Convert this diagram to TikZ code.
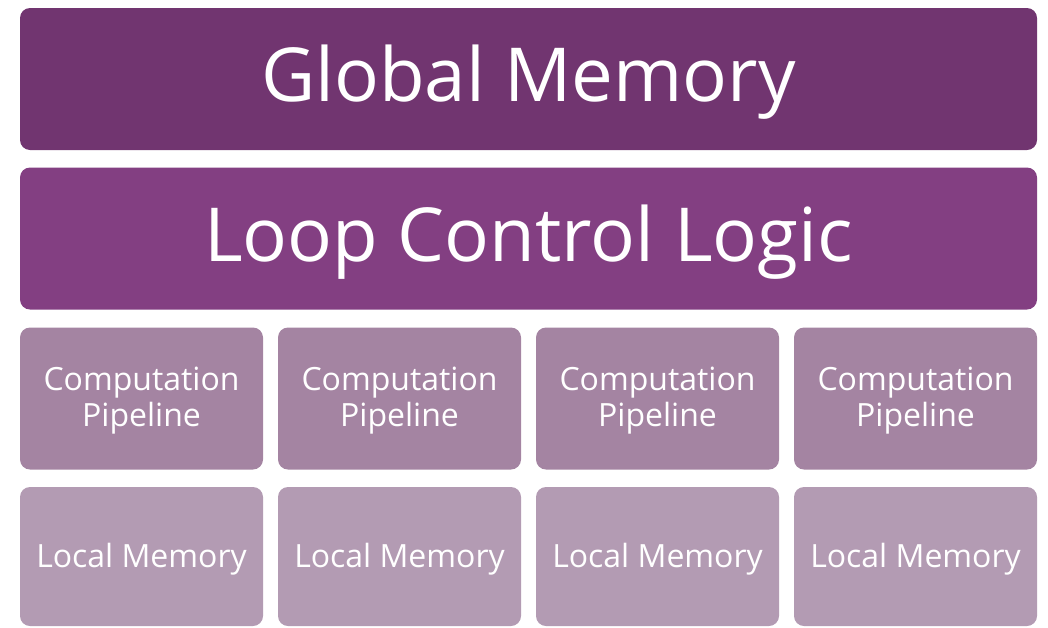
\documentclass[tikz,border=0pt]{standalone}
\usepackage{fontspec}
\setmainfont{Open Sans}
\usepackage{tikz}
\usetikzlibrary{positioning}
\usetikzlibrary{math}

\definecolor{globalcol}{HTML}{713570}
\definecolor{loopcol}{HTML}{833F82}
\definecolor{pipecol}{HTML}{A484A2}
\definecolor{localcol}{HTML}{B39BB3}

\tikzstyle{block} = [rectangle, rounded corners=10pt, inner sep=0pt, text=white, align=center, minimum height=142pt, text depth=0pt]
\tikzstyle{widebox} = [block, minimum width=1017pt, text height=45pt, font=\fontsize{74.5}{90}\selectfont]
\tikzstyle{smallbox} = [block, minimum width=243pt, text height=22pt, font=\fontsize{32}{36}\selectfont]

\begin{document}
\begin{tikzpicture}[x=1pt, y=-1pt]

  \useasboundingbox (0,0) rectangle (1048,627);

  \tikzmath{\xa = 141.5; \dx = 258;}

  % top rows
  \node[widebox, fill=globalcol] (global) at (528.5,79) {Global Memory};
  \node[widebox, fill=loopcol] (loop) at (528.5,238.5) {Loop Control Logic};

  % pipelines and their memories
  \foreach \i in {0,...,3} {
    \node[smallbox, fill=pipecol, text height=56pt] (pipe\i) at ({\xa+\dx*\i},398.5) {Computation\\Pipeline};
    \node[smallbox, fill=localcol, minimum height=139pt] (local\i) at ({\xa+\dx*\i},556.5) {Local Memory};
  }

\end{tikzpicture}
\end{document}
